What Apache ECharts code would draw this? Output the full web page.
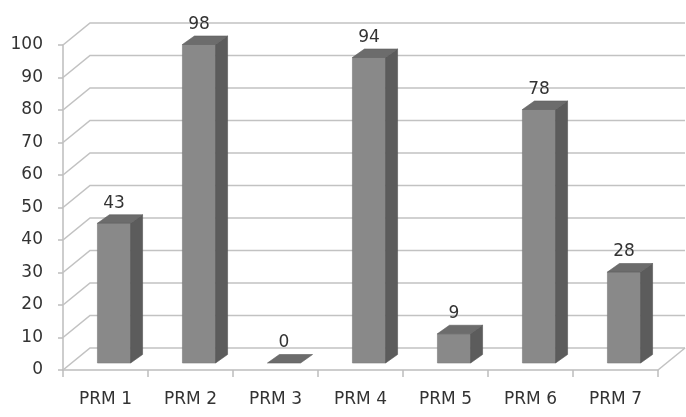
<!DOCTYPE html>
<html>
<head>
<meta charset="utf-8">
<script src="https://cdn.jsdelivr.net/npm/echarts@6/dist/echarts.min.js"></script>
<style>
  html, body { margin: 0; padding: 0; background: #fff; }
  #chart { width: 686px; height: 417px; }
</style>
</head>
<body>
<div id="chart"></div>
<script>
// Category names and their values
const categories = ['PRM 1', 'PRM 2', 'PRM 3', 'PRM 4', 'PRM 5', 'PRM 6', 'PRM 7'];
const values = [43, 98, 0, 94, 9, 78, 28];
// Value-axis ticks (back-wall gridlines)
const yTicks = [0, 10, 20, 30, 40, 50, 60, 70, 80, 90, 100];

// Perspective settings of the 3D box
const WALL_DX = 27, WALL_DY = -22;     // depth of floor / back wall
const BAR_OFF_DX = 8.5, BAR_OFF_DY = -7; // bar front plane offset
const BAR_DX = 12, BAR_DY = -8.5;       // bar depth
const BAR_RATIO = 0.39;                 // bar width relative to band

const FONT = 'DejaVu Sans';
const chart = echarts.init(document.getElementById('chart'), null, { renderer: 'canvas' });

function renderGrid(params, api) {
  const cs = params.coordSys;
  const v = api.value(0);
  const y = api.coord([0, v])[1];
  const left = cs.x, right = cs.x + cs.width;
  const style = { stroke: '#c2c2c2', lineWidth: 1.6, fill: null };
  const children = [{
    type: 'polyline',
    shape: { points: [[left, y], [left + WALL_DX, y + WALL_DY], [right + WALL_DX, y + WALL_DY]] },
    style: style, silent: true
  }];
  if (v === yTicks[0]) {
    children.push({
      type: 'line',
      shape: { x1: right, y1: y, x2: right + WALL_DX, y2: y + WALL_DY },
      style: style, silent: true
    });
  }
  return { type: 'group', children: children };
}

function renderBar(params, api) {
  const idx = api.value(0);
  const v = api.value(1);
  const base = api.coord([idx, 0]);
  const top = api.coord([idx, v]);
  const band = api.size([1, 0])[0];
  const w = band * BAR_RATIO;
  const x0 = base[0] - w / 2 + BAR_OFF_DX;
  const x1 = x0 + w;
  const yb = base[1] + BAR_OFF_DY;
  const yt = top[1] + BAR_OFF_DY;
  const children = [];
  if (yb - yt > 0.5) {
    children.push({
      type: 'polygon',
      shape: { points: [[x0, yb], [x1, yb], [x1, yt], [x0, yt]] },
      style: { fill: '#898989', stroke: '#7c7c7c', lineWidth: 0.6 }
    });
    children.push({
      type: 'polygon',
      shape: { points: [[x1, yb], [x1 + BAR_DX, yb + BAR_DY], [x1 + BAR_DX, yt + BAR_DY], [x1, yt]] },
      style: { fill: '#5c5c5c', stroke: '#555', lineWidth: 0.6 }
    });
  }
  children.push({
    type: 'polygon',
    shape: { points: [[x0, yt], [x1, yt], [x1 + BAR_DX, yt + BAR_DY], [x0 + BAR_DX, yt + BAR_DY]] },
    style: { fill: '#6c6c6c', stroke: '#606060', lineWidth: 0.6 }
  });
  children.push({
    type: 'text',
    x: (x0 + x1) / 2,
    y: yt - 20,
    style: {
      text: String(v), fill: '#333', font: '17px "' + FONT + '"',
      align: 'center', verticalAlign: 'middle'
    }
  });
  return { type: 'group', children: children };
}

chart.setOption({
  backgroundColor: '#ffffff',
  animation: false,
  grid: { left: 63, right: 28, top: 45, bottom: 47 },
  xAxis: {
    type: 'category',
    data: categories,
    boundaryGap: true,
    axisLine: { show: true, lineStyle: { color: '#bdbdbd', width: 1.5 } },
    axisTick: { show: true, alignWithLabel: false, length: 7, lineStyle: { color: '#bdbdbd', width: 1.5 } },
    axisLabel: { color: '#333', fontFamily: FONT, fontSize: 17, margin: 21 },
    splitLine: { show: false }
  },
  yAxis: {
    type: 'value',
    min: 0, max: 100, interval: 10,
    axisLine: { show: true, lineStyle: { color: '#bdbdbd', width: 1.5 } },
    axisTick: { show: true, length: 5, lineStyle: { color: '#bdbdbd', width: 1.5 } },
    axisLabel: { color: '#333', fontFamily: FONT, fontSize: 17, margin: 20 },
    splitLine: { show: false }
  },
  series: [
    {
      type: 'custom',
      name: 'walls',
      z: 1,
      silent: true,
      renderItem: renderGrid,
      data: yTicks.map(t => [t])
    },
    {
      type: 'custom',
      name: 'values',
      z: 3,
      renderItem: renderBar,
      data: values.map((v, i) => [i, v])
    }
  ]
});
</script>
</body>
</html>
